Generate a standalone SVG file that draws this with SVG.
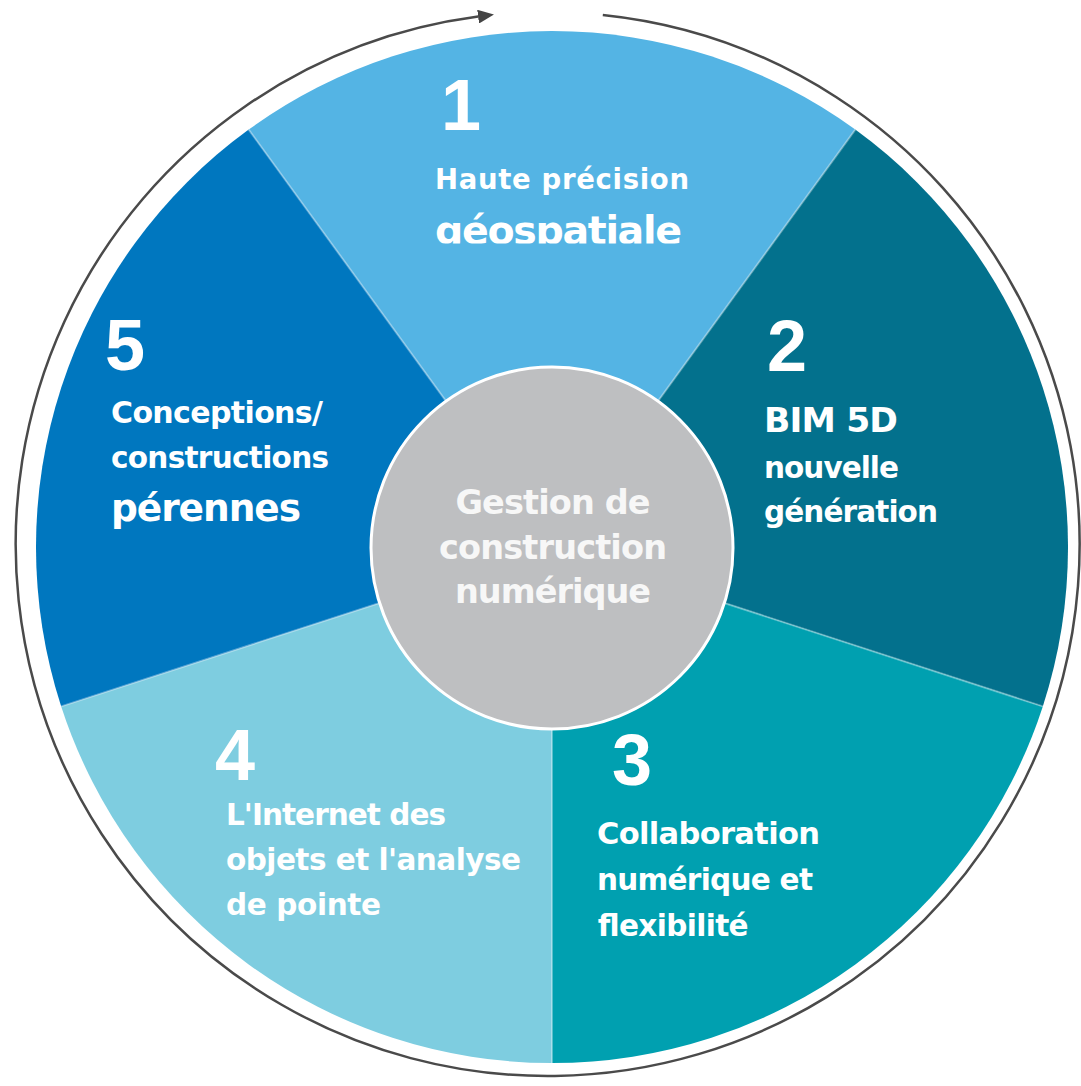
<svg xmlns="http://www.w3.org/2000/svg" width="1081" height="1086" viewBox="0 0 1081 1086">
<style>
.lbl{font-family:"DejaVu Sans","Liberation Sans",sans-serif;font-weight:bold;fill:#ffffff}
.ctr{font-family:"DejaVu Sans","Liberation Sans",sans-serif;font-weight:bold;fill:#f7f7f7;font-size:33.5px;text-anchor:middle}
.num{font-family:"Liberation Sans",Arial,sans-serif;font-weight:bold;font-size:72px;fill:#ffffff;text-anchor:middle}
.div{stroke:#ffffff;stroke-opacity:0.35;stroke-width:2}
.ring{fill:none;stroke:#4a4a4a;stroke-width:2.5}
</style>
<defs>
<marker id="ah" markerUnits="userSpaceOnUse" viewBox="0 0 16 14" markerWidth="16" markerHeight="14" refX="0" refY="7" orient="auto"><path d="M0,0 L16,7 L0,14 Z" fill="#444444"/></marker>
<clipPath id="clip1"><rect x="400" y="190" width="320" height="53.5"/></clipPath>
</defs>
<rect width="1081" height="1086" fill="#ffffff"/>

<g id="connectors">
<path class="ring" d="M602.8,14.9 A532,532 0 1 1 478.1,16.6" marker-end="url(#ah)"/>
</g>

<g id="seg1">
<path d="M552,547 L248.7,129.6 A516,516 0 0 1 855.3,129.6 Z" fill="#54B4E4"/>
<text class="num" x="461" y="130">1</text>
<text class="lbl" x="435" y="189" font-size="27.5" textLength="254">Haute précision</text>
<text class="lbl" x="435" y="244" font-size="39.5" textLength="247" clip-path="url(#clip1)">géospatiale</text>
</g>

<g id="seg2">
<path d="M552,547 L855.3,129.6 A516,516 0 0 1 1042.8,706.4 Z" fill="#03718D"/>
<text class="num" x="787" y="371">2</text>
<text class="lbl" x="764" y="432" font-size="34.5" textLength="134">BIM 5D</text>
<text class="lbl" x="764" y="478" font-size="29.5" textLength="135">nouvelle</text>
<text class="lbl" x="764" y="522" font-size="29.5" textLength="174">génération</text>
</g>

<g id="seg3">
<path d="M552,547 L1042.8,706.4 A516,516 0 0 1 552,1063 Z" fill="#00A0B0"/>
<text class="num" x="632" y="785">3</text>
<text class="lbl" x="597" y="844" font-size="30.5" textLength="223">Collaboration</text>
<text class="lbl" x="597" y="890" font-size="29.5" textLength="216">numérique et</text>
<text class="lbl" x="597" y="936" font-size="29.5" textLength="151">flexibilité</text>
</g>

<g id="seg4">
<path d="M552,547 L552,1063 A516,516 0 0 1 61.2,706.4 Z" fill="#7ECDE0"/>
<text class="num" x="235" y="780">4</text>
<text class="lbl" x="226" y="825" font-size="29.5" textLength="220">L'Internet des</text>
<text class="lbl" x="226" y="870" font-size="29.5" textLength="295">objets et l'analyse</text>
<text class="lbl" x="226" y="915" font-size="29.5" textLength="155">de pointe</text>
</g>

<g id="seg5">
<path d="M552,547 L61.2,706.4 A516,516 0 0 1 248.7,129.6 Z" fill="#0077BF"/>
<text class="num" x="125" y="370">5</text>
<text class="lbl" x="111" y="423" font-size="30" textLength="212">Conceptions/</text>
<text class="lbl" x="111" y="468" font-size="29.5" textLength="218">constructions</text>
<text class="lbl" x="111" y="521" font-size="37.5" textLength="190">pérennes</text>
</g>

<g id="dividers">
<line class="div" x1="552" y1="547" x2="248.7" y2="129.6"/>
<line class="div" x1="552" y1="547" x2="855.3" y2="129.6"/>
<line class="div" x1="552" y1="547" x2="1042.8" y2="706.4"/>
<line class="div" x1="552" y1="547" x2="552" y2="1063"/>
<line class="div" x1="552" y1="547" x2="61.2" y2="706.4"/>
</g>

<g id="center">
<circle cx="552" cy="548" r="181" fill="#BEBFC1" stroke="#ffffff" stroke-width="3"/>
<text class="ctr" x="553" y="514" textLength="195">Gestion de</text>
<text class="ctr" x="553" y="559" textLength="228">construction</text>
<text class="ctr" x="553" y="603" textLength="196">numérique</text>
</g>
</svg>
